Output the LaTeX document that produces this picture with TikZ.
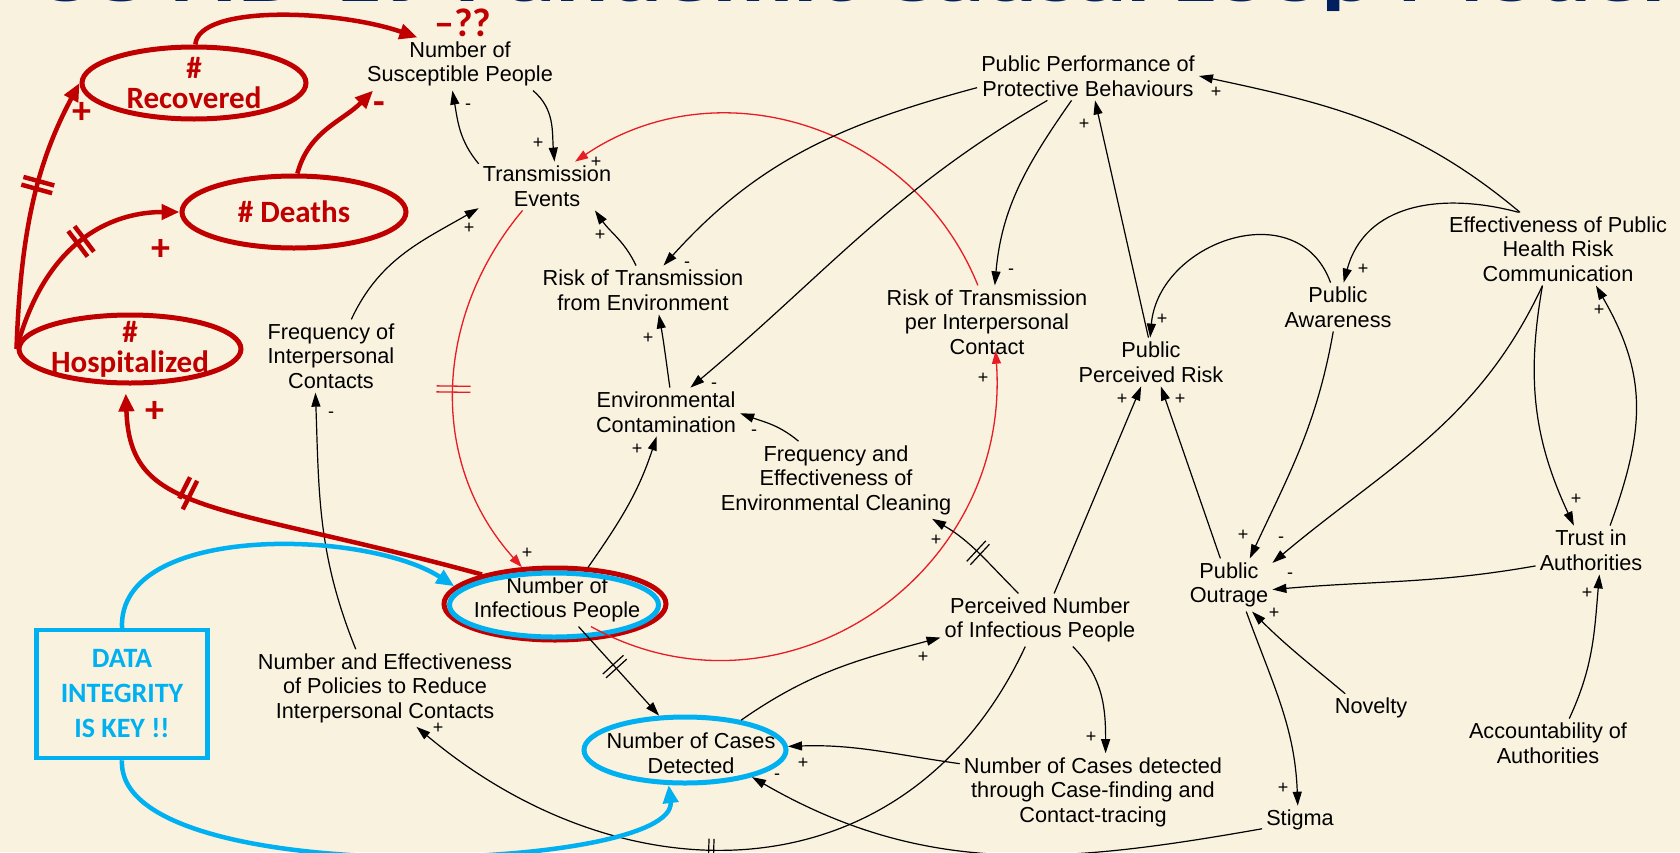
\documentclass[tikz,border=0pt]{standalone}
\usepackage{fontspec}
\setmainfont{Liberation Sans}
\newfontfamily\calibri{Carlito}
\usepackage{tikz}
\usetikzlibrary{arrows.meta,shapes.geometric,decorations.markings}

\definecolor{paper}{RGB}{248,242,223}
\definecolor{stockred}{RGB}{192,0,0}
\definecolor{loopred}{RGB}{232,28,36}
\definecolor{keyblue}{RGB}{0,176,240}
\definecolor{titlenavy}{RGB}{0,32,96}

\newcommand{\cldfont}{\fontsize{21.7}{24.5}\selectfont}
\newcommand{\polfont}{\fontsize{18}{18}\selectfont}
\newcommand{\stockfont}{\calibri\bfseries\fontsize{31}{30}\selectfont}
\newcommand{\signfont}{\calibri\bfseries\fontsize{38}{38}\selectfont}
\newcommand{\keyfont}{\calibri\bfseries\fontsize{28}{35}\selectfont}
\newcommand{\titlefont}{\calibri\bfseries\fontsize{64}{64}\selectfont}

\tikzset{
  cldvar/.style={align=center, inner sep=4pt, font=\cldfont},
  polarity/.style={inner sep=0pt, font=\polfont},
  causal/.style={line width=1.2pt, -{Triangle[length=14pt,width=9pt]}},
  thinred/.style={draw=loopred, line width=1.3pt, -{Triangle[length=13pt,width=9pt]}},
  thickred/.style={draw=stockred, line width=4.5pt, -{Triangle[length=18pt,width=15pt]}},
  bluearrow/.style={draw=keyblue, line width=4.5pt, -{Triangle[length=18pt,width=15pt]}},
  stock/.style={draw=stockred, line width=5pt, ellipse, inner sep=0pt},
  keyoval/.style={draw=keyblue, line width=5pt, ellipse, inner sep=0pt},
  stocklabel/.style={align=center, text=stockred, font=\stockfont, inner sep=0pt},
  redsign/.style={text=stockred, font=\signfont, inner sep=0pt},
  keybox/.style={draw=keyblue, line width=4.5pt, align=center, text=keyblue, font=\keyfont, inner sep=0pt},
  delaymark/.style n args={3}{postaction={decorate,decoration={markings,
    mark=at position #1 with {\draw[-] (-#3,-#2) -- (-#3,#2) (#3,-#2) -- (#3,#2);}}}}
}

\begin{document}
\begin{tikzpicture}[x=1pt,y=1pt]
  \useasboundingbox (0,0) rectangle (1680,-852);
  \clip (0,0) rectangle (1680,-852);
  \fill[paper] (0,0) rectangle (1680,-852);
  \node[anchor=base west, inner sep=0pt, text=titlenavy, font=\titlefont] (title) at (35,-1) {\scalebox{1.557}[1]{COVID-19 Pandemic Causal Loop Model}};

  \node[cldvar] (susc) at (460,-64) {Number of\\Susceptible People};
  \node[cldvar] (trans) at (547,-186) {Transmission\\Events};
  \node[cldvar] (riskenv) at (643,-290) {Risk of Transmission\\from Environment};
  \node[cldvar] (envcont) at (666,-412) {Environmental\\Contamination};
  \node[cldvar] (freqcont) at (331,-356) {Frequency of\\Interpersonal\\Contacts};
  \node[cldvar] (policies) at (385,-688) {Number and Effectiveness\\of Policies to Reduce\\Interpersonal Contacts};
  \node[cldvar] (infecttxt) at (557,-600) {Number of\\Infectious People};
  \node[cldvar] (casestxt) at (691,-753) {Number of Cases\\Detected};
  \node[cldvar] (cleaning) at (836,-480) {Frequency and\\Effectiveness of\\Environmental Cleaning};
  \node[cldvar] (riskinter) at (987,-322) {Risk of Transmission\\per Interpersonal\\Contact};
  \node[cldvar] (pppb) at (1088,-76) {Public Performance of\\Protective Behaviours};
  \node[cldvar] (ppr) at (1151,-362) {Public\\Perceived Risk};
  \node[cldvar] (aware) at (1338,-307) {Public\\Awareness};
  \node[cldvar] (effcomm) at (1558,-249) {Effectiveness of Public\\Health Risk\\Communication};
  \node[cldvar] (outrage) at (1229,-585) {Public\\Outrage};
  \node[cldvar] (trust) at (1591,-550) {Trust in\\Authorities};
  \node[cldvar] (percn) at (1040,-620) {Perceived Number\\of Infectious People};
  \node[cldvar] (novelty) at (1371,-708) {Novelty};
  \node[cldvar] (account) at (1548,-743) {Accountability of\\Authorities};
  \node[cldvar] (casesct) at (1093,-792) {Number of Cases detected\\through Case-finding and\\Contact-tracing};
  \node[cldvar] (stigma) at (1300,-820) {Stigma};

  \node[stock, minimum width=224pt, minimum height=72pt] (recov) at (194,-83) {};
  \node[stocklabel] (recovtxt) at (recov) {\#\\Recovered};
  \node[stock, minimum width=224pt, minimum height=72pt] (deaths) at (294,-212) {};
  \node[stocklabel] (deathstxt) at (deaths) {\# Deaths};
  \node[stock, minimum width=222pt, minimum height=68pt] (hosp) at (130,-349) {};
  \node[stocklabel] (hosptxt) at (hosp) {\#\\Hospitalized};
  \node[stock, minimum width=222pt, minimum height=72pt] (infect) at (555,-604) {};
  \node[keyoval, minimum width=209pt, minimum height=64pt] (infectkey) at (554,-605) {};
  \node[keyoval, minimum width=202pt, minimum height=66pt] (cases) at (685,-750) {};
  \node[keybox, minimum width=171pt, minimum height=128pt] (key) at (122,-694) {DATA\\INTEGRITY\\IS KEY !!};

  \node[redsign, font=\calibri\bfseries\fontsize{40}{40}\selectfont] (unknown) at (463,-23) {–??};
  \node[redsign] (rminus) at (379,-108) {-};
  \node[redsign] (rplus1) at (82,-113) {+};
  \node[redsign] (rplus2) at (161,-250) {+};
  \node[redsign] (rplus3) at (155,-412) {+};

  % red loop
  \draw[thinred, delaymark={0.5}{17pt}{3pt}] (trans.-135) to[out=230,in=132] (infect.132);
  \draw[thinred, shorten >=-8pt] (infecttxt.-38) to[out=-29,in=-86,looseness=1.15] (riskinter.-76);
  \draw[thinred] (riskinter.104) to[out=112,in=34,looseness=1.05] (trans.41);

  \draw[causal] (susc.-20) to[out=-40,in=95] (trans.73);
  \draw[causal] (trans.162) to[out=130,in=-80] (susc.-106);
  \draw[causal] (freqcont.61) to[out=65,in=-150] (trans.-162);
  \draw[causal] (policies.127) to[out=112,in=-88] (freqcont.-113);
  \draw[causal] (riskenv.106) to[out=115,in=-55] (trans.-27);
  \draw[causal] (envcont.81) to[out=98,in=-80] (riskenv.-57);
  \draw[causal] (infect.48) to[out=55,in=-108] (envcont.-111);
  \draw[causal] (cleaning.134) to[out=140,in=-20] (envcont.-1);
  \draw[causal] (pppb.-174) to[out=195,in=48] (riskenv.50);
  \draw[causal] (pppb.-149) to[out=210,in=40] (envcont.45);
  \draw[causal] (pppb.-124) to[out=-125,in=85] (riskinter.78);
  \draw[causal] (ppr.96) -- (pppb.-74);
  \draw[causal] (aware.107) to[out=110,in=85,looseness=1.3] (ppr.92);
  \draw[causal] (effcomm.137) to[out=165,in=75,looseness=1.1] (aware.77);
  \draw[causal] (effcomm.136) to[out=140,in=-12] (pppb.0);
  \draw[causal] (aware.-101) to[out=-100,in=65] (outrage.52);
  \draw[causal] (effcomm.-113) to[out=-115,in=40] (outrage.27);
  \draw[causal] (effcomm.-113) to[out=-100,in=115] (trust.125);
  \draw[causal] (trust.52) to[out=70,in=-60,looseness=1.1] (effcomm.-44);
  \draw[causal] (trust.-164) to[out=190,in=5] (outrage.-6);
  \draw[causal] (novelty.151) to[out=140,in=-45] (outrage.-49);
  \draw[causal] (outrage.-57) to[out=-70,in=92] (stigma.99);
  \draw[causal] (outrage.108) -- (ppr.-68);
  \draw[causal] (percn.62) -- (ppr.-112);
  \draw[causal, delaymark={0.5}{14pt}{2.5pt}] (percn.129) to[out=135,in=-30] (cleaning.-22);
  \draw[causal] (percn.-39) to[out=-45,in=90] (casesct.72);
  \draw[causal] (casesct.168) to[out=172,in=2] (cases.2);
  \draw[causal] (stigma.-167) to[out=190,in=-30] (cases.-22);
  \draw[causal, delaymark={0.55}{10pt}{2.5pt}] (percn.-119) to[out=-115,in=-40,looseness=1.15] (policies.-51);
  \draw[causal] (cases.28) to[out=35,in=195] (percn.-170);
  \draw[causal, delaymark={0.45}{14pt}{2.5pt}] (infecttxt.-51) -- (cases.127);
  \draw[causal] (account.49) to[out=65,in=-95] (trust.-71);

  \node[polarity] (s1) at (538,-143) {+};
  \node[polarity] (s2) at (468,-107) {-};
  \node[polarity] (s3) at (469,-228) {+};
  \node[polarity] (s4) at (331,-415) {-};
  \node[polarity] (s5) at (600,-235) {+};
  \node[polarity] (s6) at (648,-338) {+};
  \node[polarity] (s7) at (637,-449) {+};
  \node[polarity] (s8) at (754,-433) {-};
  \node[polarity] (s9) at (687,-265) {-};
  \node[polarity] (s10) at (714,-386) {-};
  \node[polarity] (s11) at (1011,-272) {-};
  \node[polarity] (s12) at (1084,-124) {+};
  \node[polarity] (s13) at (1162,-319) {+};
  \node[polarity] (s14) at (1363,-269) {+};
  \node[polarity] (s15) at (1216,-92) {+};
  \node[polarity] (s16) at (1243,-535) {+};
  \node[polarity] (s17) at (1281,-540) {-};
  \node[polarity] (s18) at (1576,-499) {+};
  \node[polarity] (s19) at (1599,-310) {+};
  \node[polarity] (s20) at (1290,-576) {-};
  \node[polarity] (s21) at (1274,-613) {+};
  \node[polarity] (s22) at (1283,-788) {+};
  \node[polarity] (s23) at (1180,-399) {+};
  \node[polarity] (s24) at (1122,-399) {+};
  \node[polarity] (s25) at (936,-540) {+};
  \node[polarity] (s26) at (1091,-737) {+};
  \node[polarity] (s27) at (803,-763) {+};
  \node[polarity] (s28) at (777,-777) {-};
  \node[polarity] (s29) at (438,-728) {+};
  \node[polarity] (s30) at (923,-657) {+};
  \node[polarity] (s31) at (1587,-593) {+};
  \node[polarity] (s32) at (527,-553) {+};
  \node[polarity] (s33) at (983,-378) {+};
  \node[polarity] (s34) at (596,-162) {+};

  % data integrity
  \draw[bluearrow] (key.north) .. controls +(-4,105) and +(-88,57) .. (infect.170);
  \draw[bluearrow] (key.south) .. controls +(-7,-132) and +(10,-87) .. (cases.-115);

  % stocks
  \draw[thickred, delaymark={0.6}{16pt}{4pt}] (hosp.180) .. controls +(88:120) and +(-118:90) .. (recov.180);
  \draw[thickred, delaymark={0.55}{16pt}{4pt}] (hosp.180) .. controls +(75:120) and +(180:60) .. (deaths.180);
  \draw[thickred] (recov.88) .. controls +(3,40) and +(-81,28) .. (susc.148);
  \draw[thickred] (deaths.85) to[out=75,in=-135] (susc.-163);
  \draw[thickred, delaymark={0.7}{16pt}{4pt}, shorten >=8pt] (infect.158) .. controls +(164.8:280) and +(-88:130) .. (hosp.-97);
\end{tikzpicture}
\end{document}
